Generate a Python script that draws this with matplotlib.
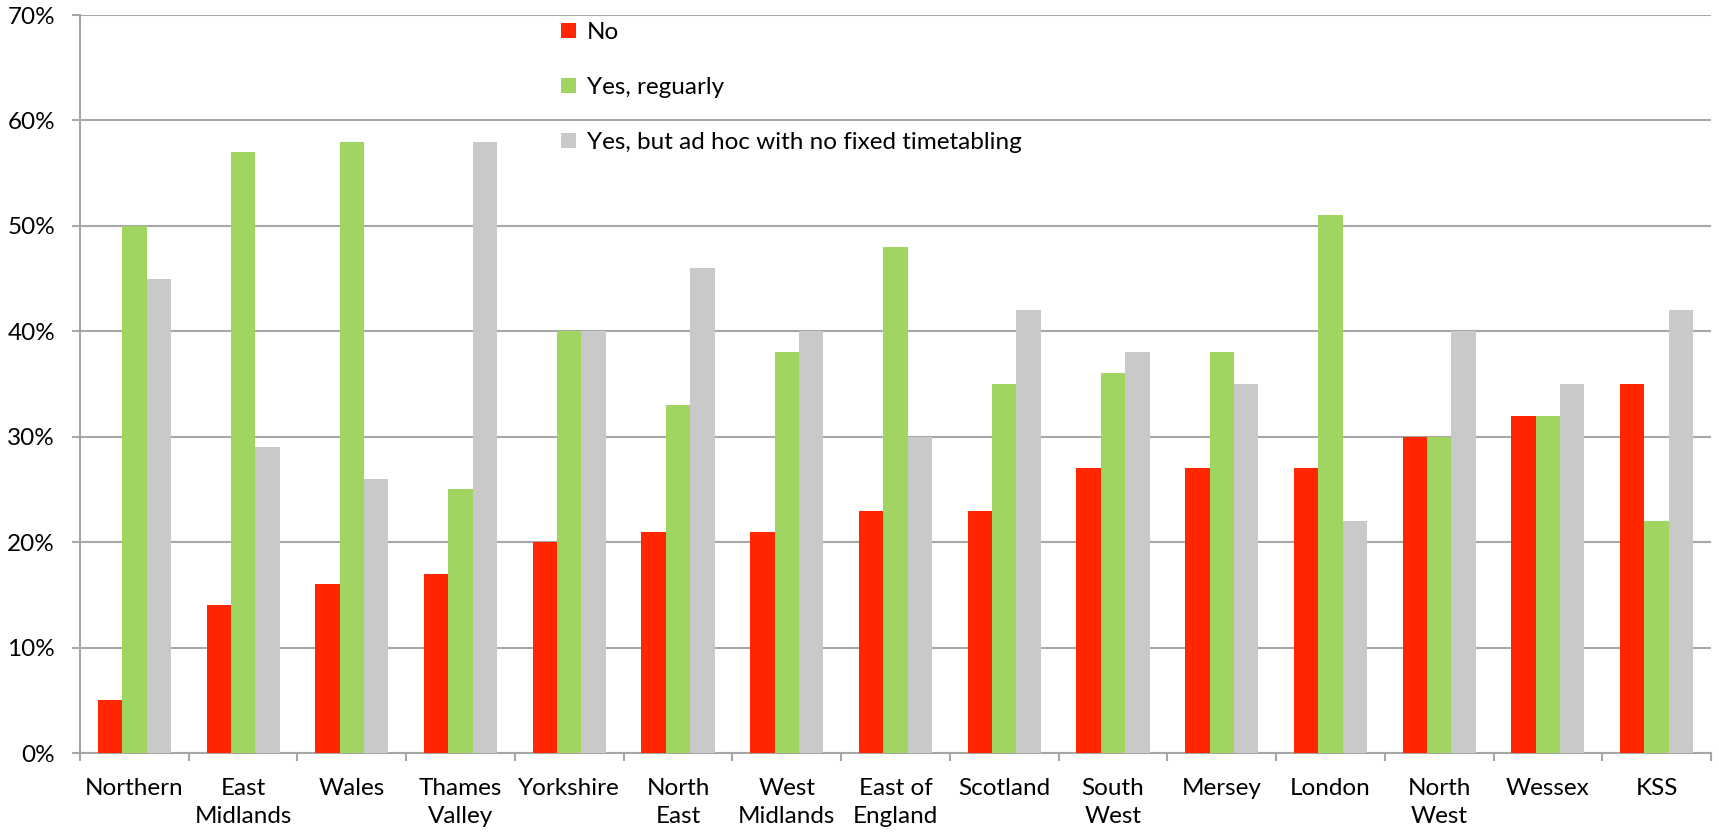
import numpy as np
import matplotlib
matplotlib.use('Agg')
import matplotlib.pyplot as plt
from matplotlib.ticker import FixedLocator, PercentFormatter

# data
regions = ['Northern', 'East\nMidlands', 'Wales', 'Thames\nValley', 'Yorkshire',
           'North\nEast', 'West\nMidlands', 'East of\nEngland', 'Scotland', 'South\nWest',
           'Mersey', 'London', 'North\nWest', 'Wessex', 'KSS']
no_vals = [5, 14, 16, 17, 20, 21, 21, 23, 23, 27, 27, 27, 30, 32, 35]
yes_regular = [50, 57, 58, 25, 40, 33, 38, 48, 35, 36, 38, 51, 30, 32, 22]
yes_adhoc = [45, 29, 26, 58, 40, 46, 40, 30, 42, 38, 35, 22, 40, 35, 42]
series_names = ['No', 'Yes, reguarly', 'Yes, but ad hoc with no fixed timetabling']
colors = ['#FF2600', '#A1D562', '#C9C9C9']

plt.rcParams['font.family'] = ['Lato', 'DejaVu Sans']
grid_col = '#A6A6A6'
fs = 17.5

W, H = 1719, 836
fig = plt.figure(figsize=(W / 100, H / 100), dpi=100)
ax = fig.add_axes([80 / W, (H - 753) / H, (1711 - 80) / W, (753 - 15) / H])

x = np.arange(len(regions))
bw = 0.224
bars = []
for i, (vals, c) in enumerate(zip([no_vals, yes_regular, yes_adhoc], colors)):
    b = ax.bar(x + (i - 1) * bw, vals, bw, color=c, zorder=3, linewidth=0)
    bars.append(b)

ax.set_xlim(-0.5, len(regions) - 0.5)
ax.set_ylim(0, 70)
ax.set_yticks(np.arange(0, 71, 10))
ax.yaxis.set_major_formatter(PercentFormatter(decimals=0))
ax.grid(axis='y', color=grid_col, linewidth=1.5, zorder=0)

ax.set_xticks(x)
ax.set_xticklabels(regions, fontsize=fs, linespacing=1.4)
ax.xaxis.set_minor_locator(FixedLocator(np.arange(-0.5, len(regions), 1.0)))
ax.tick_params(axis='x', which='major', length=0, pad=18)
ax.tick_params(axis='x', which='minor', length=6, width=1.5, color=grid_col, direction='out')
ax.tick_params(axis='y', length=6, width=1.5, color=grid_col, labelsize=fs, pad=12)

for s in ['top', 'right']:
    ax.spines[s].set_visible(False)
for s in ['left', 'bottom']:
    ax.spines[s].set_color(grid_col)
    ax.spines[s].set_linewidth(1.5)

ax.legend(bars, series_names, loc='upper left', bbox_to_anchor=(561 / W, 1 - 22 / H),
          bbox_transform=fig.transFigure, frameon=False, fontsize=fs,
          handlelength=0.62, handleheight=0.62, handletextpad=0.45, labelspacing=1.4,
          borderaxespad=0, borderpad=0)

fig.savefig('out.png', dpi=100)
